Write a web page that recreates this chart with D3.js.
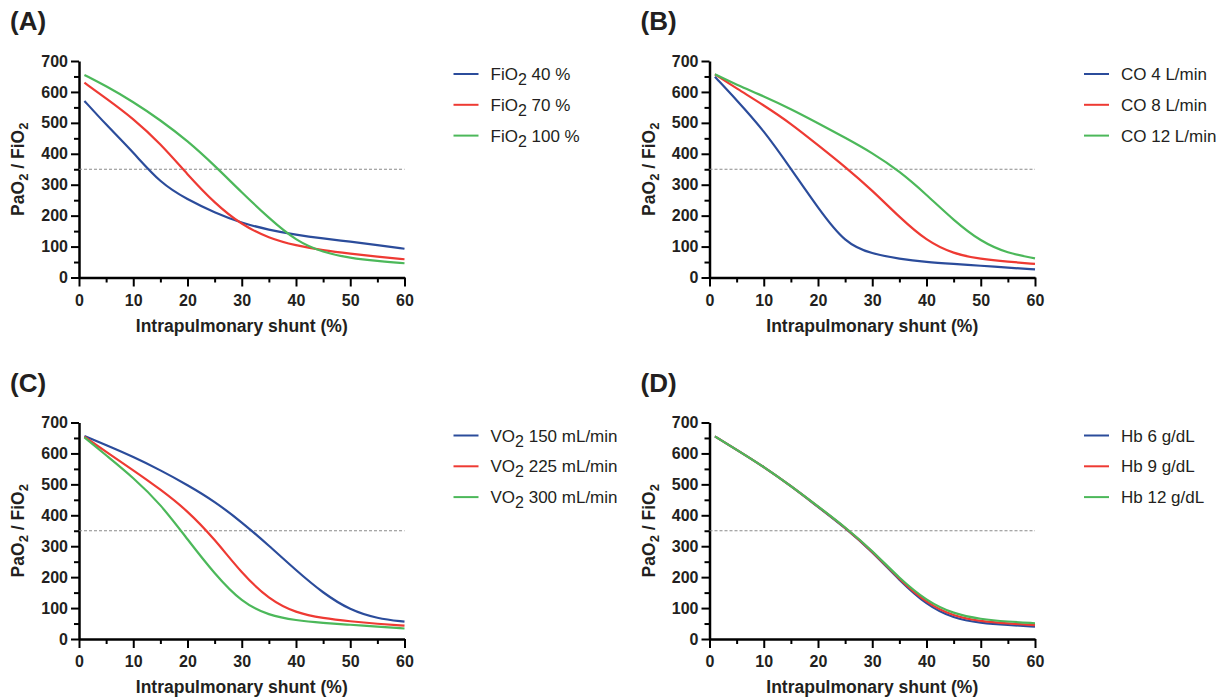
<!DOCTYPE html>
<html>
<head>
<meta charset="utf-8">
<script src="https://cdn.jsdelivr.net/npm/d3@7"></script>
<style>
  body { margin: 0; background: #fff; }
  svg { font-family: Arial, "Liberation Sans", Helvetica, sans-serif; }
  .axis path, .axis line { stroke: #000; }
  .axis text { font-weight: bold; font-size: 16px; fill: #231f20; }
</style>
</head>
<body>
<div id="chart-area"></div>
<script>

// shunt values (%) where curves were read
var shunt = [1, 5, 10, 15, 20, 25, 30, 35, 40, 45, 50, 55, 60];

// panel A - FiO2
var fio40  = [571, 494, 405, 305, 252, 210, 176, 154, 138, 126, 116, 105, 93];
var fio70  = [630, 579, 514, 433, 333, 240, 170, 127, 103, 88, 77, 67, 59];
var fio100 = [655, 619, 568, 509, 442, 362, 275, 192, 118, 81, 63, 53, 46];

// panel B - cardiac output
var co4  = [649, 574, 476, 352, 225, 110, 76, 60, 50, 44, 38, 32, 26];
var co8  = [657, 611, 557, 498, 428, 358, 282, 195, 118, 76, 60, 51, 44];
var co12 = [657, 623, 586, 545, 499, 452, 403, 344, 268, 185, 116, 78, 62];

// panel C - VO2
var vo150 = [656, 627, 589, 546, 498, 445, 378, 302, 222, 148, 93, 66, 56];
var vo225 = [654, 605, 546, 484, 415, 323, 212, 128, 84, 67, 57, 49, 43];
var vo300 = [652, 594, 522, 437, 322, 210, 118, 76, 60, 52, 46, 40, 34];

// panel D - haemoglobin
var hb6  = [655, 612, 557, 495, 427, 360, 282, 190, 110, 66, 52, 45, 40];
var hb9  = [655, 612, 557, 495, 428, 361, 284, 193, 116, 73, 57, 50, 45];
var hb12 = [655, 612, 557, 495, 429, 362, 286, 196, 123, 81, 64, 56, 51];

var xTicks = [0, 10, 20, 30, 40, 50, 60];
var xMinor = [5, 15, 25, 35, 45, 55];
var yTicks = [0, 100, 200, 300, 400, 500, 600, 700];
var yMinor = [50, 150, 250, 350, 450, 550, 650];
var threshold = 350;

var colors = ["#2b4c9b", "#ee3a33", "#4cb85a"];

var panels = [
  { tag: "(A)", left: 79, top: 61, pre: "FiO", sub: "2", names: [" 40 %", " 70 %", " 100 %"], series: [fio40, fio70, fio100] },
  { tag: "(B)", left: 709.5, top: 61, pre: "CO", sub: "", names: [" 4 L/min", " 8 L/min", " 12 L/min"], series: [co4, co8, co12] },
  { tag: "(C)", left: 79, top: 422.5, pre: "VO", sub: "2", names: [" 150 mL/min", " 225 mL/min", " 300 mL/min"], series: [vo150, vo225, vo300] },
  { tag: "(D)", left: 709.5, top: 422.5, pre: "Hb", sub: "", names: [" 6 g/dL", " 9 g/dL", " 12 g/dL"], series: [hb6, hb9, hb12] }
];

var plotW = 325.5, plotH = 216.5;

var svg = d3.select("#chart-area")
    .append("svg")
    .attr("width", 1219)
    .attr("height", 698);

var x = d3.scaleLinear().domain([0, 60]).range([0, plotW]);
var y = d3.scaleLinear().domain([0, 700]).range([plotH, 0]);

var line = d3.line()
    .x(function(d){ return x(d[0]); })
    .y(function(d){ return y(d[1]); })
    .curve(d3.curveBasis);

panels.forEach(function(p){

    var g = svg.append("g")
        .attr("transform", "translate(" + p.left + "," + p.top + ")");

    // panel tag
    g.append("text")
        .attr("x", -69)
        .attr("y", -31)
        .attr("font-size", "26px")
        .attr("font-weight", "bold")
        .attr("fill", "#231f20")
        .text(p.tag);

    // minor ticks
    g.append("g")
        .attr("class", "axis")
        .attr("transform", "translate(0," + plotH + ")")
        .call(d3.axisBottom(x).tickValues(xMinor).tickSize(5).tickSizeOuter(0).tickFormat(""))
        .call(function(a){ a.select(".domain").remove(); a.selectAll("line").attr("stroke-width", 2); });
    g.append("g")
        .attr("class", "axis")
        .call(d3.axisLeft(y).tickValues(yMinor).tickSize(5).tickSizeOuter(0).tickFormat(""))
        .call(function(a){ a.select(".domain").remove(); a.selectAll("line").attr("stroke-width", 2); });

    // major axes
    var xAxis = g.append("g")
        .attr("class", "axis")
        .attr("transform", "translate(0," + plotH + ")")
        .call(d3.axisBottom(x).tickValues(xTicks).tickSize(9).tickSizeOuter(0).tickPadding(8));
    xAxis.select(".domain").attr("stroke-width", 2.5);
    xAxis.selectAll("line").attr("stroke-width", 2);

    var yAxis = g.append("g")
        .attr("class", "axis")
        .call(d3.axisLeft(y).tickValues(yTicks).tickSize(8).tickSizeOuter(0).tickPadding(3));
    yAxis.select(".domain").attr("stroke-width", 2.5);
    yAxis.selectAll("line").attr("stroke-width", 2);

    // axis titles
    g.append("text")
        .attr("x", plotW / 2)
        .attr("y", plotH + 54)
        .attr("text-anchor", "middle")
        .attr("font-size", "17.5px")
        .attr("font-weight", "bold")
        .attr("fill", "#231f20")
        .text("Intrapulmonary shunt (%)");

    var yl = g.append("text")
        .attr("transform", "translate(-55," + (plotH / 2) + ") rotate(-90)")
        .attr("text-anchor", "middle")
        .attr("font-size", "17.5px")
        .attr("font-weight", "bold")
        .attr("fill", "#231f20");
    yl.append("tspan").text("PaO");
    yl.append("tspan").attr("font-size", "13px").attr("dy", 4).text("2");
    yl.append("tspan").attr("dy", -4).text(" / FiO");
    yl.append("tspan").attr("font-size", "13px").attr("dy", 4).text("2");

    // threshold
    g.append("line")
        .attr("x1", x(0)).attr("x2", x(60))
        .attr("y1", y(threshold)).attr("y2", y(threshold))
        .attr("stroke", "#8a8a8a")
        .attr("stroke-width", 1)
        .attr("stroke-dasharray", "3,2");

    // curves
    p.series.forEach(function(vals, i){
        var pts = shunt.map(function(s, k){ return [s, vals[k]]; });
        g.append("path")
            .attr("fill", "none")
            .attr("stroke", colors[i])
            .attr("stroke-width", 2.2)
            .attr("d", line(pts));
    });

    // legend
    var lg = g.append("g")
        .attr("transform", "translate(" + (plotW + 49) + "," + 13 + ")");
    p.names.forEach(function(n, i){
        var row = lg.append("g").attr("transform", "translate(0," + (i * 30.8) + ")");
        row.append("line")
            .attr("x1", 0).attr("x2", 25)
            .attr("stroke", colors[i])
            .attr("stroke-width", 2);
        var t = row.append("text")
            .attr("x", 37)
            .attr("y", 6)
            .attr("font-size", "17px")
            .attr("fill", "#231f20");
        t.append("tspan").text(p.pre);
        if (p.sub) {
            t.append("tspan").attr("font-size", "16px").attr("dy", 5).text(p.sub);
            t.append("tspan").attr("dy", -5).text(n);
        } else {
            t.append("tspan").text(n);
        }
    });
});

</script>
</body>
</html>
